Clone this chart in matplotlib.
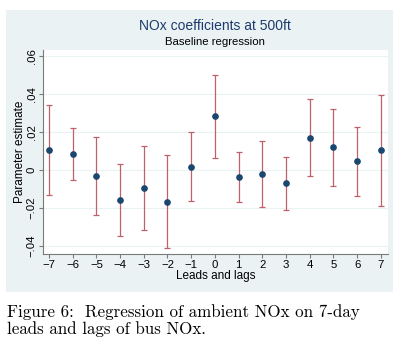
import matplotlib
matplotlib.use("Agg")
import matplotlib.pyplot as plt
from matplotlib.patches import Rectangle
from matplotlib.ticker import FuncFormatter

plt.rcParams["font.family"] = ["Liberation Sans", "DejaVu Sans"]

leads_lags = [-7, -6, -5, -4, -3, -2, -1, 0, 1, 2, 3, 4, 5, 6, 7]
estimate = [0.0105, 0.0084, -0.0032, -0.0158, -0.0096, -0.0167, 0.0016, 0.0282,
            -0.0035, -0.0021, -0.0070, 0.0170, 0.0119, 0.0046, 0.0104]
ci_upper = [0.0342, 0.0223, 0.0174, 0.0032, 0.0126, 0.0079, 0.0198, 0.0502,
            0.0097, 0.0154, 0.0070, 0.0374, 0.0319, 0.0228, 0.0395]
ci_lower = [-0.0132, -0.0051, -0.0235, -0.0346, -0.0316, -0.0412, -0.0165, 0.0061,
            -0.0167, -0.0197, -0.0212, -0.0033, -0.0086, -0.0137, -0.0189]
y_ticks = [-0.04, -0.02, 0, 0.02, 0.04, 0.06]

fig = plt.figure(figsize=(4, 3.6), dpi=100)
fig.patch.set_facecolor("white")
bg = Rectangle((6/400, 1-292/360), 387/400, 282/360, transform=fig.transFigure,
               facecolor="#eaf2f3", edgecolor="none", zorder=-5)
fig.add_artist(bg)

ax = fig.add_axes([43/400, 1-254/360, 344.5/400, 204/360])
ax.set_zorder(1)
ax.set_facecolor("white")

yerr = [[e - l for e, l in zip(estimate, ci_lower)], [u - e for u, e in zip(ci_upper, estimate)]]
ax.errorbar(leads_lags, estimate, yerr=yerr, fmt="none", ecolor="#c0606a",
            elinewidth=0.9, capsize=2.0, capthick=0.9, zorder=2)
ax.plot(leads_lags, estimate, "o", color="#1a476f", markersize=3.8, zorder=3)

ax.set_xlim(-7.25, 7.28)
ax.set_ylim(-0.0442, 0.0632)
ax.set_xticks(leads_lags)
ax.set_xticklabels([str(v).replace("-", "\u2212") for v in leads_lags])
ax.set_yticks(y_ticks)

def fmt(v, pos):
    if abs(v) < 1e-12:
        return "0"
    s = ("%.2f" % v).replace("0.", ".")
    return s.replace("-", "\u2212")

ax.yaxis.set_major_formatter(FuncFormatter(fmt))
ax.grid(axis="y", color="#eaf2f3", linewidth=0.8, zorder=0)
ax.set_axisbelow(True)
for s in ["top", "right"]:
    ax.spines[s].set_visible(False)
for s in ["left", "bottom"]:
    ax.spines[s].set_color("#7a7a7a")
    ax.spines[s].set_linewidth(0.8)
ax.tick_params(axis="both", labelsize=8.2, length=3.0, width=0.8, color="#7a7a7a", pad=1.5)
for lab in ax.get_yticklabels():
    lab.set_rotation(90)
    lab.set_va("center")

ax.set_xlabel("Leads and lags", fontsize=8.5)
ax.set_ylabel("Parameter estimate", fontsize=8.5)
ax.yaxis.set_label_coords((20 - 43) / 344.5, 0.5)
ax.yaxis.label.set_va("center")
ax.xaxis.set_label_coords(0.5, -(276 - 254) / 204)
ax.xaxis.label.set_va("center")

fig.text(215/400, 1-26/360, "NOx coefficients at 500ft", ha="center", va="center",
         fontsize=10, color="#1e3a6e")
fig.text(215/400, 1-42/360, "Baseline regression", ha="center", va="center",
         fontsize=8.2, color="black")

fig.text(7/400, 1-312/360, "Figure 6:  Regression of ambient NOx on 7-day", ha="left",
         va="center", fontsize=12.2, family="cmr10")
fig.text(7/400, 1-329/360, "leads and lags of bus NOx.", ha="left",
         va="center", fontsize=12.2, family="cmr10")

fig.savefig("out.png", dpi=100)
